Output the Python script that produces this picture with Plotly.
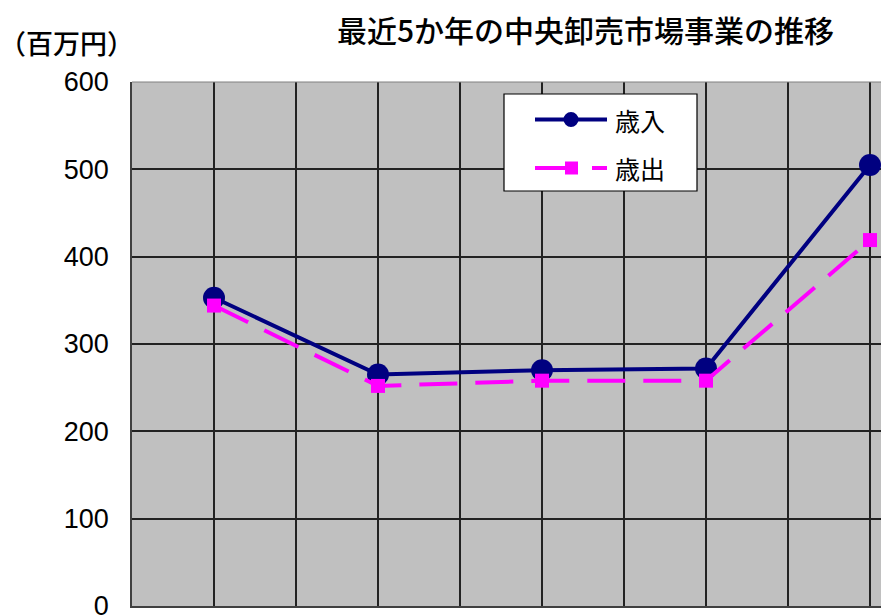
import plotly.graph_objects as go

# 年度（5か年）と各年度の金額（百万円）
years = [1, 2, 3, 4, 5]
revenue = [353, 265, 270, 272, 505]      # 歳入
expenditure = [344, 252, 258, 258, 419]  # 歳出

y_ticks = [0, 100, 200, 300, 400, 500, 600]

W, H = 881, 616
L, R, T, B = 132, 0, 82, 10
PW, PH = W - L - R, H - T - B
CAT_W = 164  # pixel width of one category slot

NAVY = "#000080"
MAGENTA = "#FF00FF"
JP = "Noto Sans CJK JP"


def px(x):
    return (x - L) / PW


def py(y):
    return (H - B - y) / PH


fig = go.Figure()
fig.add_trace(go.Scatter(
    x=years, y=revenue, name="歳入", mode="lines+markers",
    line=dict(color=NAVY, width=4),
    marker=dict(symbol="circle", size=22, color=NAVY),
))
fig.add_trace(go.Scatter(
    x=years, y=expenditure, name="歳出", mode="lines+markers",
    line=dict(color=MAGENTA, width=4, dash="38px,18px"),
    marker=dict(symbol="square", size=14, color=MAGENTA),
))

x0 = years[0] - 0.5
fig.update_xaxes(
    range=[x0, x0 + PW / CAT_W],
    tick0=x0, dtick=0.5,
    showticklabels=False, ticks="",
    showgrid=True, gridcolor="#222222", gridwidth=1.5,
    zeroline=False, automargin=False,
    showline=True, linecolor="#404040", linewidth=1.5,
)
fig.update_yaxes(
    range=[0, 600],
    tickvals=y_ticks,
    ticks="", ticklabelstandoff=16,
    ticklabeloverflow="allow", automargin=False,
    tickfont=dict(family="Liberation Sans, Arial", size=27, color="#000"),
    showgrid=True, gridcolor="#222222", gridwidth=1.5,
    zeroline=False,
    showline=True, linecolor="#404040", linewidth=1.5,
)

shapes = []
annotations = []

# top border of the plot area
shapes.append(dict(type="line", xref="paper", yref="paper",
                   x0=0, x1=1, y0=1, y1=1,
                   line=dict(color="#808080", width=1)))

# legend box
shapes.append(dict(type="rect", xref="paper", yref="paper",
                   x0=px(504), x1=px(697), y0=py(191), y1=py(94),
                   fillcolor="white", line=dict(color="#000", width=1.2),
                   layer="above"))
# 歳入 entry
shapes.append(dict(type="line", xref="paper", yref="paper",
                   x0=px(535), x1=px(607), y0=py(119.5), y1=py(119.5),
                   line=dict(color=NAVY, width=4), layer="above"))
shapes.append(dict(type="circle", xref="paper", yref="paper",
                   x0=px(563.5), x1=px(578.5), y0=py(127), y1=py(112),
                   fillcolor=NAVY, line=dict(color=NAVY, width=0),
                   layer="above"))
# 歳出 entry
shapes.append(dict(type="line", xref="paper", yref="paper",
                   x0=px(535), x1=px(571), y0=py(168), y1=py(168),
                   line=dict(color=MAGENTA, width=4), layer="above"))
shapes.append(dict(type="line", xref="paper", yref="paper",
                   x0=px(592), x1=px(607), y0=py(168), y1=py(168),
                   line=dict(color=MAGENTA, width=4), layer="above"))
shapes.append(dict(type="rect", xref="paper", yref="paper",
                   x0=px(565), x1=px(578), y0=py(174.5), y1=py(161.5),
                   fillcolor=MAGENTA, line=dict(color=MAGENTA, width=0),
                   layer="above"))

annotations.append(dict(text="歳入", xref="paper", yref="paper",
                        x=px(613), y=py(120), xanchor="left", yanchor="middle",
                        showarrow=False, font=dict(family=JP, size=25, color="#000")))
annotations.append(dict(text="歳出", xref="paper", yref="paper",
                        x=px(613), y=py(168), xanchor="left", yanchor="middle",
                        showarrow=False, font=dict(family=JP, size=25, color="#000")))

# title and unit label
annotations.append(dict(text="最近5か年の中央卸売市場事業の推移",
                        xref="paper", yref="paper",
                        x=px(585), y=py(29), xanchor="center", yanchor="middle",
                        showarrow=False,
                        font=dict(family=JP, size=30, color="#000", weight=500)))
annotations.append(dict(text="（百万円）",
                        xref="paper", yref="paper",
                        x=px(66), y=py(42), xanchor="center", yanchor="middle",
                        showarrow=False,
                        font=dict(family=JP, size=27, color="#000", weight=500)))

fig.update_layout(
    width=W, height=H,
    margin=dict(l=L, r=R, t=T, b=B),
    paper_bgcolor="white",
    plot_bgcolor="#C0C0C0",
    showlegend=False,
    shapes=shapes,
    annotations=annotations,
)

fig.write_html("out.html")
